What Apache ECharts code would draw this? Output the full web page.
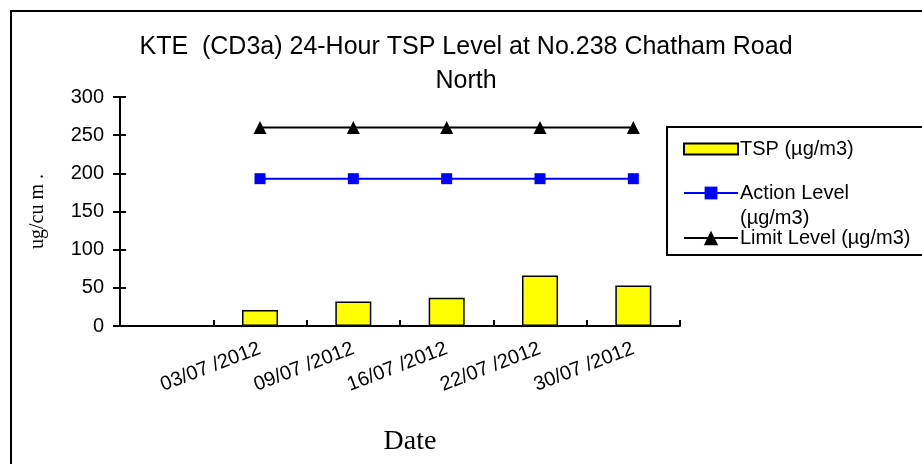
<!DOCTYPE html>
<html>
<head>
<meta charset="utf-8">
<script src="https://cdn.jsdelivr.net/npm/echarts@6/dist/echarts.min.js"></script>
<style>html,body{margin:0;padding:0;background:#fff;}#c{width:922px;height:464px;}</style>
</head>
<body>
<div id="c"></div>
<script>
const categories = ["", "03/07 /2012", "09/07 /2012", "16/07 /2012", "22/07 /2012", "30/07 /2012"];
const tspValues = [null, 21, 32, 37, 66, 53];
const actionLevel = [null, 193, 193, 193, 193, 193];
const limitLevel = [null, 260, 260, 260, 260, 260];
const yTicks = [0, 50, 100, 150, 200, 250, 300];

const chart = echarts.init(document.getElementById('c'), null, {renderer: 'canvas'});
const sans = 'Liberation Sans, Arial, sans-serif';
const serif = 'Liberation Serif, Times New Roman, serif';
const grid = {left: 120, right: 242, top: 97, bottom: 138};
const legendText = {fontFamily: sans, fontSize: 20, color: '#000', padding: [0, 0, 0, -3]};
const option = {
  backgroundColor: '#fff',
  animation: false,
  title: {
    text: 'KTE  (CD3a) 24-Hour TSP Level at No.238 Chatham Road\nNorth',
    left: 461, top: 25, textAlign: 'center',
    textStyle: {fontFamily: sans, fontSize: 25, fontWeight: 'normal', color: '#000', lineHeight: 34}
  },
  grid: grid,
  legend: [
    {data: [{name: 'TSP (µg/m3)', icon: 'rect'}], left: 678, top: 134, itemWidth: 54, itemHeight: 11, itemGap: 0,
     textStyle: legendText},
    {data: ['Action Level'], left: 678, top: 178, itemWidth: 54, itemHeight: 16, itemGap: 0,
     textStyle: legendText},
    {data: ['Limit Level (µg/m3)'], left: 678, top: 223, itemWidth: 54, itemHeight: 18, itemGap: 0,
     textStyle: legendText}
  ],
  xAxis: {
    type: 'category', data: categories,
    name: 'Date', nameLocation: 'middle', nameGap: 102,
    nameTextStyle: {fontFamily: serif, fontSize: 28, color: '#000', padding: [0, 0, 0, 20]},
    axisLine: {lineStyle: {color: '#000', width: 2}},
    axisTick: {show: true, interval: 0, inside: true, length: 6, lineStyle: {color: '#000', width: 2}},
    axisLabel: {rotate: 21, margin: 22, fontFamily: sans, fontSize: 20, color: '#000', interval: 0},
    splitLine: {show: false}
  },
  yAxis: [{
    type: 'value', min: 0, max: 300, interval: 50,
    name: 'ug/cu m .', nameLocation: 'middle', nameGap: 72, nameRotate: 90,
    nameTextStyle: {fontFamily: serif, fontSize: 20, color: '#000'},
    axisLine: {show: true, lineStyle: {color: '#000', width: 2}},
    axisTick: {show: true, length: 7, lineStyle: {color: '#000', width: 2}},
    axisLabel: {margin: 16, fontFamily: sans, fontSize: 20, color: '#000',
      formatter: v => yTicks.includes(v) ? String(v) : ''},
    splitLine: {show: false}
  }, {
    type: 'value', min: 0, max: 300, interval: 50, position: 'left',
    axisLine: {show: false},
    axisTick: {show: true, inside: true, length: 6, lineStyle: {color: '#000', width: 2}},
    axisLabel: {show: false}, splitLine: {show: false}
  }],
  series: [
    {name: 'TSP (µg/m3)', type: 'bar', data: tspValues, barWidth: 36,
     itemStyle: {color: '#FFFF00', borderColor: '#000', borderWidth: 1.5}},
    {name: 'Action Level', type: 'line', data: actionLevel, symbol: 'rect', symbolSize: 11,
     lineStyle: {color: '#0000FF', width: 2}, itemStyle: {color: '#0000FF'}},
    {name: 'Limit Level (µg/m3)', type: 'line', data: limitLevel, symbol: 'triangle', symbolSize: 13,
     lineStyle: {color: '#000', width: 2}, itemStyle: {color: '#000'}}
  ],
  graphic: [
    {type: 'polyline', shape: {points: [[11, 470], [11, 11], [930, 11]]}, style: {stroke: '#000', lineWidth: 2, fill: null}, silent: true},
    {type: 'rect', shape: {x: 667, y: 127, width: 270, height: 128}, style: {stroke: '#000', lineWidth: 2, fill: null}, silent: true, z: -1},
    {type: 'text', left: 740, top: 208, style: {text: '(µg/m3)', font: '20px ' + sans, fill: '#000'}, silent: true}
  ]
};
chart.setOption(option);
</script>
</body>
</html>
